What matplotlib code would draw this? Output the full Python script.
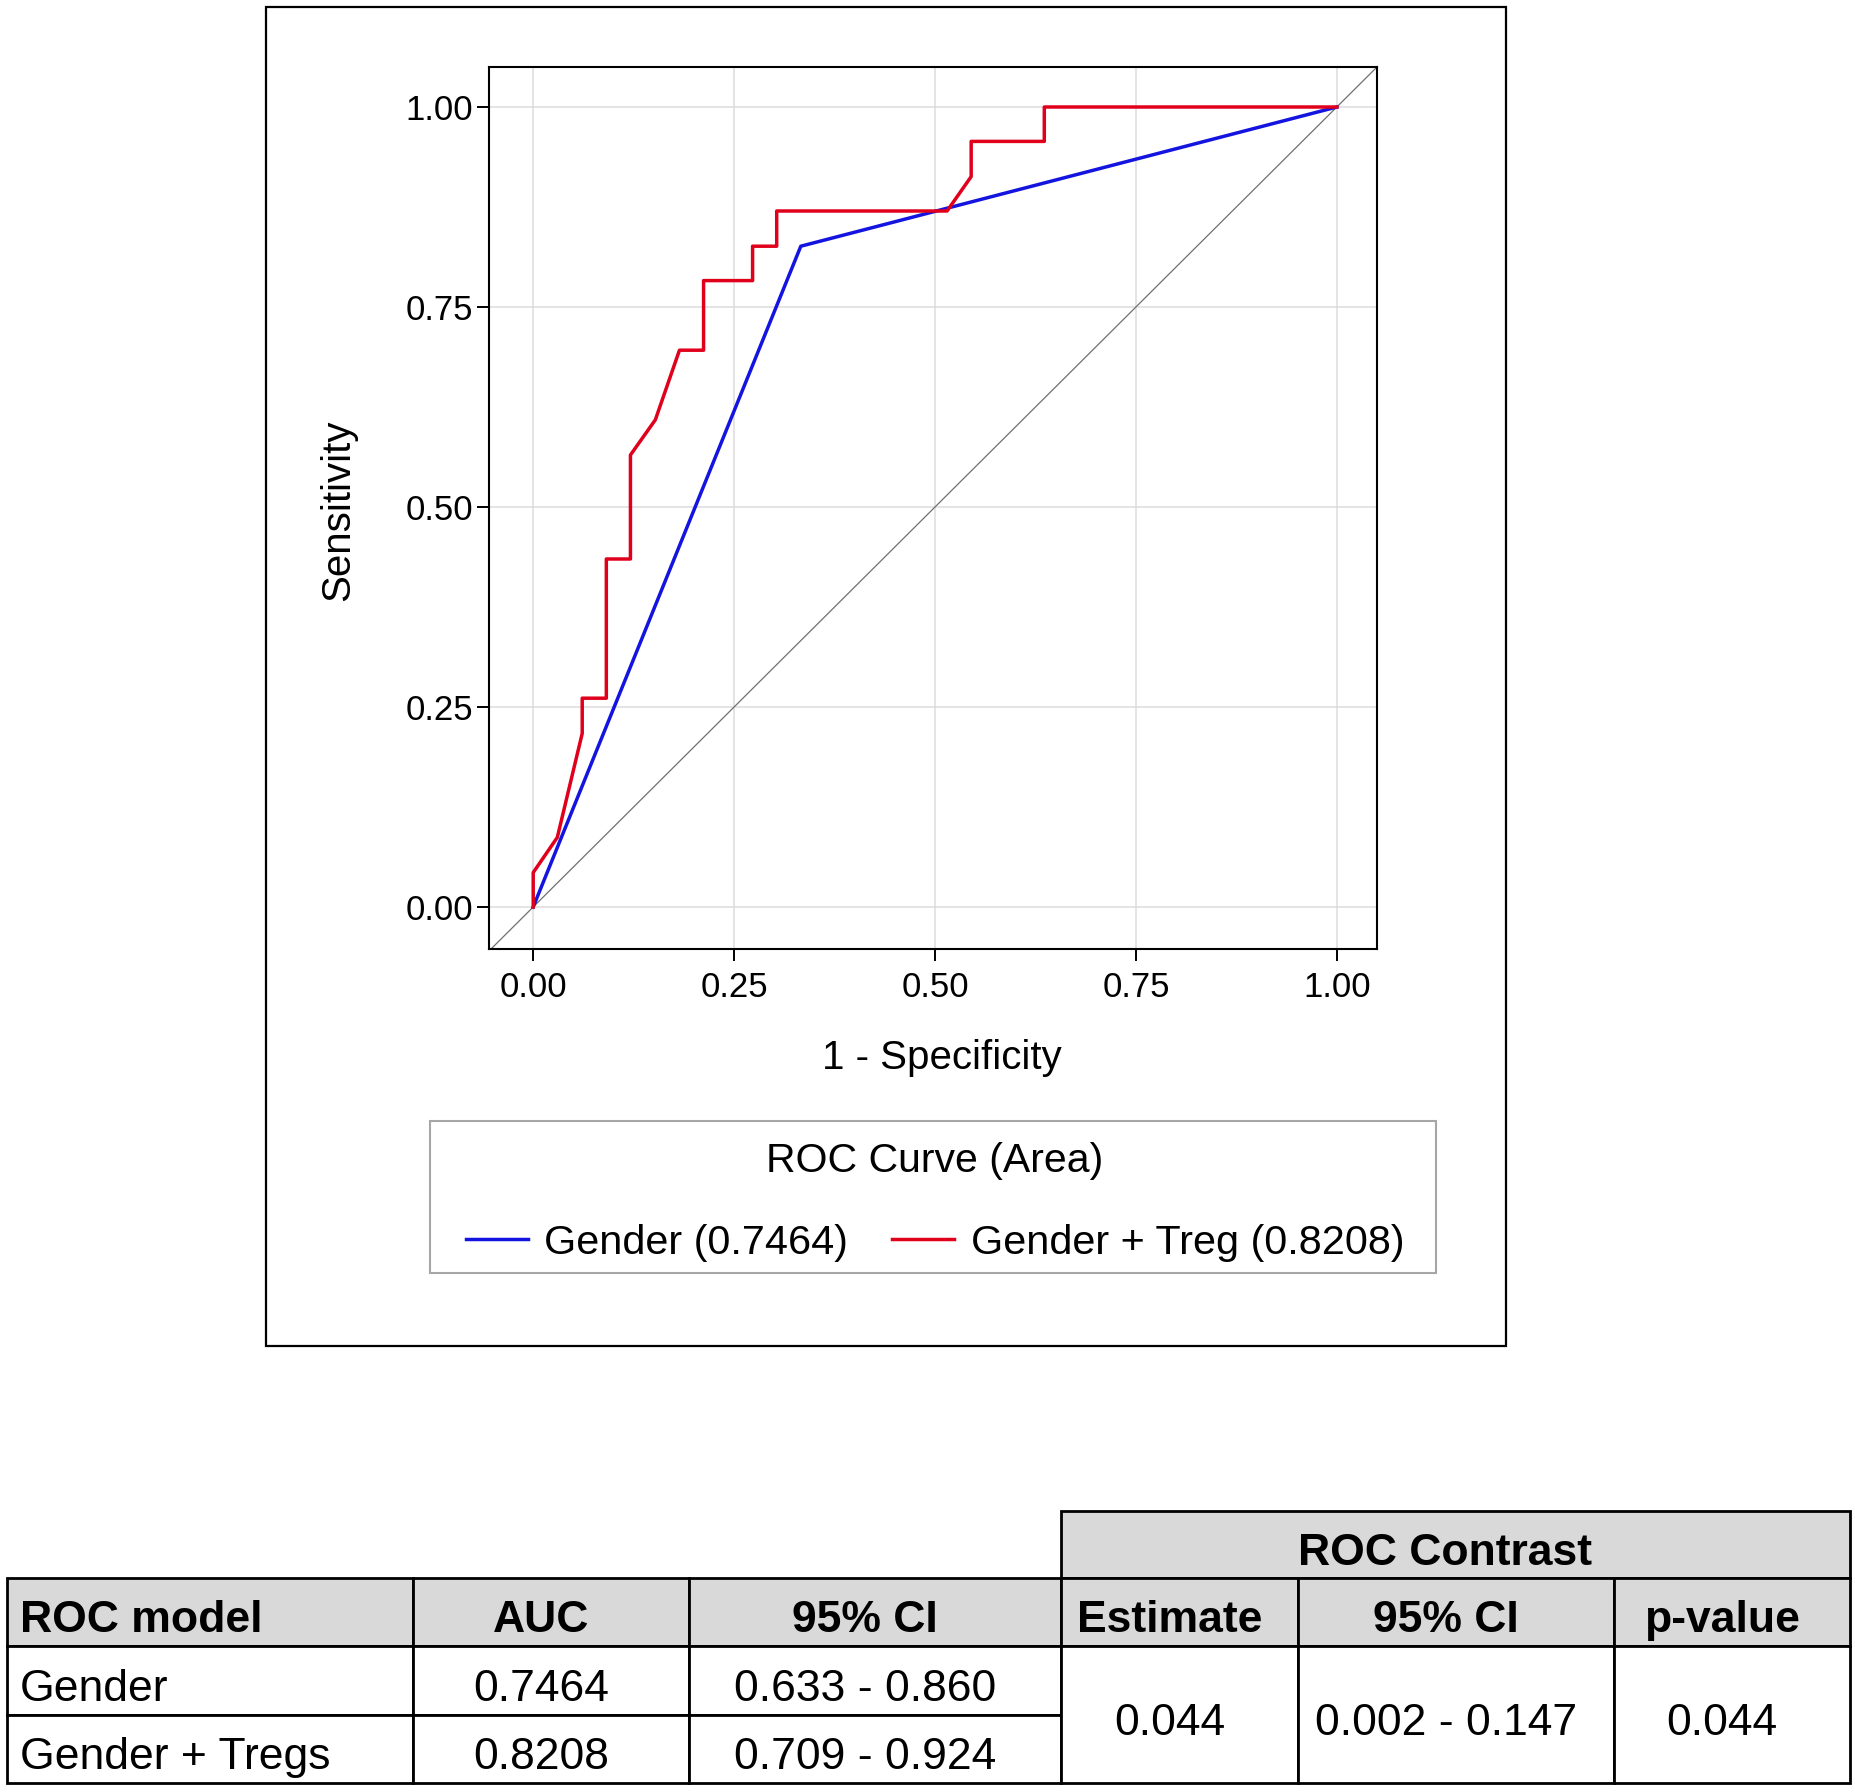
import numpy as np
import matplotlib
matplotlib.use("Agg")
import matplotlib.pyplot as plt
from matplotlib.patches import Rectangle
from matplotlib.lines import Line2D

plt.rcParams['font.family'] = ['Liberation Sans', 'DejaVu Sans']

# ROC curves (1 - specificity, sensitivity)
fpr_gender = [0.0, 0.333, 1.0]
tpr_gender = [0.0, 0.826, 1.0]

fpr_treg = [0.0, 0.0, 0.030, 0.061, 0.061, 0.091, 0.091, 0.121, 0.121, 0.152,
            0.182, 0.212, 0.212, 0.273, 0.273, 0.303, 0.303, 0.515, 0.545,
            0.545, 0.636, 0.636, 1.0]
tpr_treg = [0.0, 0.043, 0.087, 0.217, 0.261, 0.261, 0.435, 0.435, 0.565, 0.609,
            0.696, 0.696, 0.783, 0.783, 0.826, 0.826, 0.870, 0.870, 0.913,
            0.957, 0.957, 1.0, 1.0]

legend_labels = ["Gender (0.7464)", "Gender + Treg (0.8208)"]
ticks = [0.0, 0.25, 0.5, 0.75, 1.0]
tick_labels = ["0.00", "0.25", "0.50", "0.75", "1.00"]

# table contents
table_header = ["ROC model", "AUC", "95% CI", "Estimate", "95% CI", "p-value"]
models = ["Gender", "Gender + Tregs"]
auc = ["0.7464", "0.8208"]
auc_ci = ["0.633 - 0.860", "0.709 - 0.924"]
contrast = ["0.044", "0.002 - 0.147", "0.044"]

BLUE = "#1414e0"
RED = "#e0001c"

W, H = 1855, 1792
fig = plt.figure(figsize=(W / 100, H / 100), dpi=100)


def fx(px):
    return px / W


def fy(py):
    return 1 - py / H


# outer frame around the plot
fig.patches.append(Rectangle((fx(266), fy(1346)), fx(1506) - fx(266), fy(7) - fy(1346),
                             transform=fig.transFigure, fill=False, ec="black", lw=1.6))

ax = fig.add_axes([fx(489), fy(949), fx(1377) - fx(489), fy(67) - fy(949)])
ax.set_xlim(-0.055, 1.05)
ax.set_ylim(-0.0525, 1.05)
ax.grid(True, color="#dcdcdc", lw=1.1)
ax.set_axisbelow(True)
ax.axline((0, 0), (1, 1), color="#707070", lw=0.9)
ax.plot(fpr_gender, tpr_gender, color=BLUE, lw=2.5)
ax.plot(fpr_treg, tpr_treg, color=RED, lw=2.5)

ax.set_xticks(ticks)
ax.set_xticklabels(tick_labels)
ax.set_yticks(ticks)
ax.set_yticklabels(tick_labels)
ax.tick_params(direction="out", length=8.6, width=1.4, labelsize=25, pad=3)
ax.tick_params(axis="x", pad=7)
for s in ax.spines.values():
    s.set_linewidth(1.5)

ax.set_xlabel("1 - Specificity", fontsize=29, va="center")
ax.xaxis.set_label_coords(0.51, -0.124)
ax.set_ylabel("Sensitivity", fontsize=29, va="center")
ax.yaxis.set_label_coords(-0.170, 0.497)

# legend
handles = [Line2D([], [], color=BLUE, lw=2.5), Line2D([], [], color=RED, lw=2.5)]
fig.legend(handles, legend_labels, title="ROC Curve (Area)", ncol=2,
           loc="center", bbox_to_anchor=(fx(935), fy(1202)), frameon=False,
           fontsize=29.8, title_fontsize=29.5, handlelength=1.5, handletextpad=0.4,
           columnspacing=1.05, labelspacing=1.05, borderpad=0)
fig.patches.append(Rectangle((fx(430), fy(1273)), fx(1436) - fx(430), fy(1121) - fy(1273),
                             transform=fig.transFigure, fill=False, ec="#a6a6a6", lw=1.5))

# table
cols = [7, 413, 689, 1061, 1298, 1614, 1850]
rows = [1511, 1578, 1646, 1715, 1783]
GRAY = "#d9d9d9"
dx, dy = -10, 4   # text offset inside the cells


def cell(x0, y0, x1, y1, fill):
    fig.patches.append(Rectangle((fx(x0), fy(y1)), fx(x1) - fx(x0), fy(y0) - fy(y1),
                                 transform=fig.transFigure, fc=fill, ec="black", lw=2.0))


def ctext(x0, x1, y0, y1, s, **kw):
    fig.text(fx((x0 + x1) / 2 + dx), fy((y0 + y1) / 2 + dy), s, fontsize=32,
             ha="center", va="center_baseline", **kw)


def ltext(x0, y0, y1, s, **kw):
    fig.text(fx(x0 + 13), fy((y0 + y1) / 2 + dy), s, fontsize=32,
             ha="left", va="center_baseline", **kw)


cell(cols[3], rows[0], cols[6], rows[1], GRAY)
ctext(cols[3], cols[6], rows[0], rows[1], "ROC Contrast", fontweight="bold")

for i, name in enumerate(table_header):
    cell(cols[i], rows[1], cols[i + 1], rows[2], GRAY)
    if i == 0:
        ltext(cols[0], rows[1], rows[2], name, fontweight="bold")
    else:
        ctext(cols[i], cols[i + 1], rows[1], rows[2], name, fontweight="bold")

for r in range(2):
    y0, y1 = rows[2 + r], rows[3 + r]
    for i in range(3):
        cell(cols[i], y0, cols[i + 1], y1, "white")
    ltext(cols[0], y0, y1, models[r])
    ctext(cols[1], cols[2], y0, y1, auc[r])
    ctext(cols[2], cols[3], y0, y1, auc_ci[r])

for i in range(3):
    cell(cols[3 + i], rows[2], cols[4 + i], rows[4], "white")
    ctext(cols[3 + i], cols[4 + i], rows[2], rows[4], contrast[i])

fig.savefig("out.png", dpi=100, facecolor="white")
